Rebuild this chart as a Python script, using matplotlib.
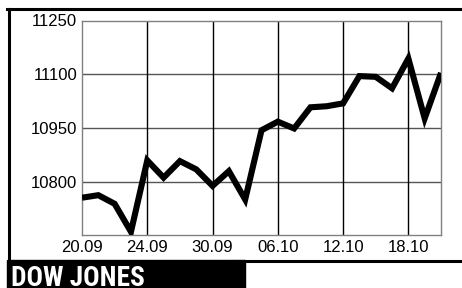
import matplotlib.pyplot as plt
from matplotlib.patches import Rectangle
from matplotlib.lines import Line2D

plt.rcParams['font.family'] = ['Liberation Sans', 'DejaVu Sans']

# daily closes (trading days)
closes = [10756, 10763, 10739, 10661, 10860, 10812, 10858, 10835, 10789, 10830,
          10751, 10944, 10968, 10949, 11008, 11011, 11019, 11095, 11093, 11061,
          11144, 10977, 11104]
days = list(range(len(closes)))
tick_pos = [0, 4, 8, 12, 16, 20]
tick_labels = ['20.09', '24.09', '30.09', '06.10', '12.10', '18.10']
y_ticks = [10800, 10950, 11100, 11250]

fig = plt.figure(figsize=(4.62, 2.88), dpi=100)
ax = fig.add_axes([82 / 462, 53 / 288, 359 / 462, 214.5 / 288])

for y in y_ticks[:-1]:
    ax.axhline(y, color='#555555', lw=1.0, zorder=1)
for x in tick_pos[1:]:
    ax.axvline(x, color='black', lw=1.0, zorder=1)

ax.plot(days, closes, color='black', lw=4.4, solid_joinstyle='miter',
        solid_capstyle='butt', zorder=3)

ax.set_xlim(0, 22)
ax.set_ylim(10652, 11250)
ax.set_xticks(tick_pos)
ax.set_xticklabels(tick_labels)
ax.set_yticks(y_ticks)
ax.set_yticklabels([str(v) for v in y_ticks])
ax.tick_params(length=0, labelsize=12, pad=3.5, colors='black')
for s in ax.spines.values():
    s.set_color('#808080')
    s.set_linewidth(1.0)

# outer frame and title bar
fig.add_artist(Line2D([7.3 / 462, 1], [1 - 8.8 / 288] * 2, color='black', lw=2.2,
                      transform=fig.transFigure))
fig.add_artist(Line2D([9.2 / 462] * 2, [0, 1 - 8.8 / 288], color='black', lw=2.2,
                      transform=fig.transFigure))
fig.add_artist(Line2D([0.5, 1], [1 - 261 / 288] * 2, color='black', lw=2.2,
                      transform=fig.transFigure))
fig.add_artist(Rectangle((7.3 / 462, 0), 237.7 / 462, 28.5 / 288, color='black',
                         transform=fig.transFigure))
fig.text(11 / 462, 2.3 / 288, 'DOW JONES', color='white', fontsize=19.7,
         fontweight='bold', fontstretch='condensed', va='baseline', ha='left',
         family=['Roboto Condensed', 'Liberation Sans Narrow', 'DejaVu Sans'])

plt.savefig('out.png', dpi=100)
